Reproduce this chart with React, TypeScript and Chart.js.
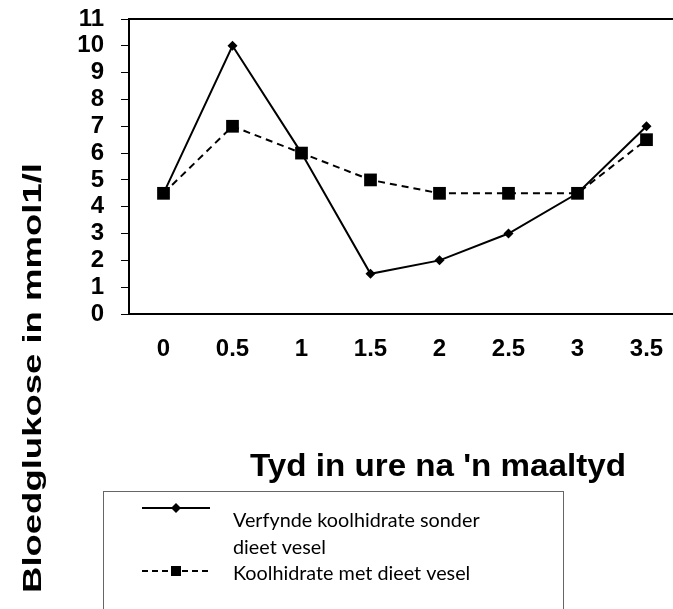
import React, { useEffect, useRef } from "react";
import { Chart, registerables } from "chart.js";

Chart.register(...registerables);

const categories = ["0", "0.5", "1", "1.5", "2", "2.5", "3", "3.5"];
const refinedValues = [4.5, 10, 6, 1.5, 2, 3, 4.5, 7];
const fibreValues = [4.5, 7, 6, 5, 4.5, 4.5, 4.5, 6.5];
const seriesNames = ["Verfynde koolhidrate sonder dieet vesel", "Koolhidrate met dieet vesel"];
const legendLines = [["Verfynde koolhidrate sonder", "dieet vesel"], ["Koolhidrate met dieet vesel"]];
const xTitle = "Tyd in ure na 'n maaltyd";
const yTitle = "Bloedglukose in mmol1/l";

const W = 700;
const H = 609;

const decorPlugin = {
  id: "decor",
  beforeDatasetsDraw(chart: any) {
    const { ctx, chartArea: a } = chart;
    ctx.save();
    ctx.strokeStyle = "#000";
    ctx.lineWidth = 2;
    ctx.strokeRect(a.left, a.top, a.right - a.left, a.bottom - a.top);
    ctx.restore();
  },
  afterDraw(chart: any) {
    const { ctx } = chart;
    ctx.save();
    ctx.fillStyle = "#000";
    // y title
    ctx.save();
    ctx.translate(34, 378);
    ctx.rotate(-Math.PI / 2);
    ctx.scale(1.46, 1);
    ctx.font = "bold 25px 'Liberation Sans', Arial, sans-serif";
    ctx.textAlign = "center";
    ctx.textBaseline = "middle";
    ctx.fillText(yTitle, 0, 0);
    ctx.restore();
    // x title
    ctx.save();
    ctx.translate(438, 467);
    ctx.scale(1.07, 1);
    ctx.font = "bold 31px 'Liberation Sans', Arial, sans-serif";
    ctx.textAlign = "center";
    ctx.textBaseline = "middle";
    ctx.fillText(xTitle, 0, 0);
    ctx.restore();
    // legend box
    ctx.strokeStyle = "#666";
    ctx.lineWidth = 1;
    ctx.strokeRect(103.5, 491.5, 460, 200);
    // item 1: solid + diamond
    ctx.strokeStyle = "#000";
    ctx.lineWidth = 2;
    ctx.setLineDash([]);
    ctx.beginPath();
    ctx.moveTo(142, 508);
    ctx.lineTo(210, 508);
    ctx.stroke();
    ctx.beginPath();
    ctx.moveTo(176, 503);
    ctx.lineTo(181, 508);
    ctx.lineTo(176, 513);
    ctx.lineTo(171, 508);
    ctx.closePath();
    ctx.fill();
    // item 2: dashed + square
    ctx.setLineDash([6, 4]);
    ctx.beginPath();
    ctx.moveTo(142, 571);
    ctx.lineTo(210, 571);
    ctx.stroke();
    ctx.setLineDash([]);
    ctx.fillRect(171, 566, 10, 10);
    // texts
    ctx.font = "19.8px Lato, 'Open Sans', sans-serif";
    ctx.textAlign = "left";
    ctx.textBaseline = "middle";
    ctx.fillText(legendLines[0][0], 233, 521);
    ctx.fillText(legendLines[0][1], 233, 548);
    ctx.fillText(legendLines[1][0], 233, 574);
    ctx.restore();
  },
};

export default function App() {
  const ref = useRef<HTMLCanvasElement>(null);
  useEffect(() => {
    if (!ref.current) return;
    const chart = new Chart(ref.current, {
      type: "line",
      data: {
        labels: categories,
        datasets: [
          {
            label: seriesNames[0],
            data: refinedValues,
            borderColor: "#000",
            backgroundColor: "#000",
            borderWidth: 2,
            pointStyle: "rectRot",
            pointRadius: 5,
            pointBorderWidth: 0,
            tension: 0,
            order: 1,
          },
          {
            label: seriesNames[1],
            data: fibreValues,
            borderColor: "#000",
            backgroundColor: "#000",
            borderWidth: 2,
            borderDash: [7, 5],
            pointStyle: "rect",
            pointRadius: 9,
            pointBorderWidth: 0,
            tension: 0,
            order: 0,
          },
        ],
      },
      options: {
        responsive: false,
        animation: false,
        devicePixelRatio: 1,
        layout: { padding: { top: 19, right: 19, left: 0, bottom: 0 } },
        plugins: { legend: { display: false }, tooltip: { enabled: false } },
        scales: {
          x: {
            type: "category",
            offset: true,
            grid: { display: false },
            border: { display: false },
            ticks: {
              color: "#000",
              padding: 13,
              maxRotation: 0,
              autoSkip: false,
              font: { family: "'Liberation Sans', Arial, sans-serif", size: 24, weight: "bold" },
            },
            afterFit(scale: any) {
              scale.height = 295;
            },
          },
          y: {
            min: 0,
            max: 11,
            grid: { drawOnChartArea: false, drawTicks: true, tickLength: 8, color: "#000", lineWidth: 1 },
            border: { display: false },
            ticks: {
              stepSize: 1,
              autoSkip: false,
              color: "#000",
              padding: 17,
              font: { family: "'Liberation Sans', Arial, sans-serif", size: 24, weight: "bold", lineHeight: 0.5 },
            },
            afterFit(scale: any) {
              scale.width = 129;
              scale.paddingTop = 0;
              scale.paddingBottom = 0;
            },
          },
        },
      },
      plugins: [decorPlugin],
    } as any);
    return () => chart.destroy();
  }, []);
  return (
    <div style={{ position: "fixed", left: 0, top: 0, width: 673, height: 609, overflow: "hidden", background: "#fff" }}>
      <canvas ref={ref} width={W} height={H} style={{ display: "block", width: W, height: H }} />
    </div>
  );
}
